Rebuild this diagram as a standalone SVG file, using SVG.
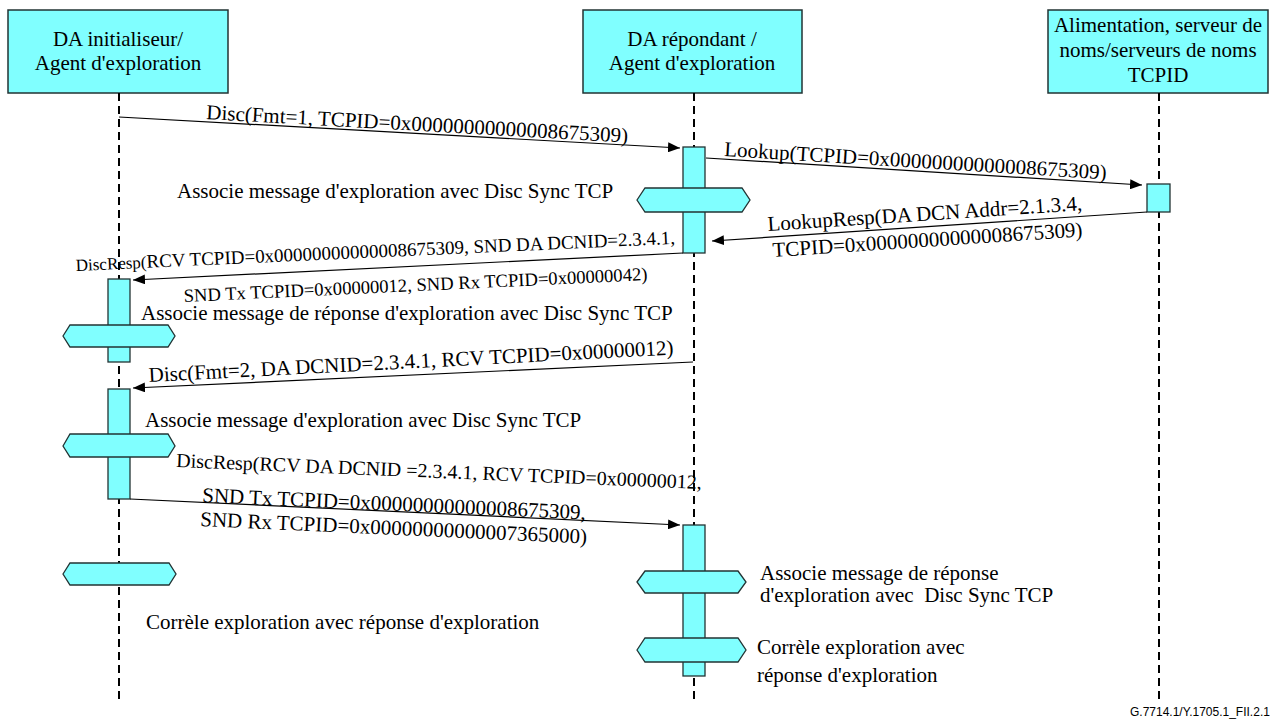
<svg xmlns="http://www.w3.org/2000/svg" width="1276" height="724" viewBox="0 0 1276 724">
<style>
.box{fill:#80FFFF;stroke:#223333;stroke-width:1.5}
.act{fill:#80FFFF;stroke:#223333;stroke-width:1.3}
.hex{fill:#80FFFF;stroke:#223333;stroke-width:1.3}
.life{stroke:#000;stroke-width:2;stroke-dasharray:8 5;fill:none}
.msg{stroke:#000;stroke-width:1.2;fill:none;marker-end:url(#ah)}
text{font-family:"Liberation Serif","Times New Roman",serif;font-size:21px;fill:#000;white-space:pre}
.ctr{text-anchor:middle}
.foot{font-family:"Liberation Sans",Arial,sans-serif;font-size:12px}
</style>
<defs>
<marker id="ah" markerWidth="12" markerHeight="10" refX="12" refY="5" orient="auto" markerUnits="userSpaceOnUse">
<path d="M0,0 L12,5 L0,10 z" fill="#000"/>
</marker>
</defs>
<rect width="1276" height="724" fill="#fff"/>

<g id="initiator">
<rect class="box" x="8" y="10" width="220" height="83"/>
<text class="ctr" x="118" y="46">DA initialiseur/</text>
<text class="ctr" x="118" y="70">Agent d'exploration</text>
<line class="life" x1="119" y1="93" x2="119" y2="700"/>
<rect class="act" x="108" y="279" width="22" height="83"/>
<polygon class="hex" points="63,336 70,325 168,325 175,336 168,347 70,347"/>
<rect class="act" x="108" y="389" width="22" height="110"/>
<polygon class="hex" points="63,446 70,434 168,434 175,446 168,457 70,457"/>
<polygon class="hex" points="63,574 70,563 169,563 176,574 169,585 70,585"/>
</g>

<g id="responder">
<rect class="box" x="583" y="10" width="219" height="83"/>
<text class="ctr" x="692" y="46">DA répondant /</text>
<text class="ctr" x="692" y="70">Agent d'exploration</text>
<line class="life" x1="694" y1="93" x2="694" y2="700"/>
<rect class="act" x="683" y="147" width="22" height="106"/>
<polygon class="hex" points="637,200 645,188 742,188 750,200 742,212 645,212"/>
<rect class="act" x="683" y="525" width="22" height="151"/>
<polygon class="hex" points="637,582 645,571 738,571 746,582 738,593 645,593"/>
<polygon class="hex" points="637,650 645,638 738,638 746,650 738,662 645,662"/>
</g>

<g id="nameserver">
<rect class="box" x="1048" y="10" width="220" height="83"/>
<text class="ctr" x="1158" y="32">Alimentation, serveur de</text>
<text class="ctr" x="1158" y="57">noms/serveurs de noms</text>
<text class="ctr" x="1158" y="82">TCPID</text>
<line class="life" x1="1159" y1="93" x2="1159" y2="700"/>
<rect class="act" x="1147" y="184" width="23" height="28"/>
</g>

<g id="connectors">
<line class="msg" x1="119" y1="117" x2="680" y2="148"/>
<text x="206" y="119" transform="rotate(3.2 206 119)">Disc(Fmt=1, TCPID=0x00000000000008675309)</text>

<line class="msg" x1="706" y1="158" x2="1142" y2="185"/>
<text x="724" y="156" transform="rotate(3.5 724 156)">Lookup(TCPID=0x00000000000008675309)</text>

<line class="msg" x1="1147" y1="212" x2="712" y2="241"/>
<text x="768" y="231" transform="rotate(-3.8 768 231)">LookupResp(DA DCN Addr=2.1.3.4,</text>
<text x="773" y="257" transform="rotate(-3.8 773 257)">TCPID=0x00000000000008675309)</text>

<line class="msg" x1="683" y1="253" x2="133" y2="280"/>
<text x="76" y="271" transform="rotate(-2.6 76 271)"><tspan style="font-size:17px">DiscResp(</tspan><tspan style="font-size:19px">RCV TCPID=0x00000000000008675309, SND DA DCNID=2.3.4.1,</tspan></text>
<text x="184" y="302" transform="rotate(-2.7 184 302)" style="font-size:18.6px">SND Tx TCPID=0x00000012, SND Rx TCPID=0x00000042)</text>

<line class="msg" x1="693" y1="362" x2="133" y2="388"/>
<text x="149" y="382" transform="rotate(-3 149 382)">Disc(Fmt=2, DA DCNID=2.3.4.1, RCV TCPID=0x00000012)</text>

<line class="msg" x1="130" y1="499" x2="680" y2="525"/>
<text x="176" y="467" transform="rotate(2.4 176 467)" style="font-size:20px">DiscResp(RCV DA DCNID =2.3.4.1, RCV TCPID=0x00000012,</text>
<text x="202" y="502" transform="rotate(2.6 202 502)">SND Tx TCPID=0x00000000000008675309,</text>
<text x="200" y="526" transform="rotate(2.6 200 526)">SND Rx TCPID=0x00000000000007365000)</text>
</g>

<g id="notes">
<text x="177" y="198">Associe message d'exploration avec Disc Sync TCP</text>
<text x="141" y="320">Associe message de réponse d'exploration avec Disc Sync TCP</text>
<text x="145" y="427">Associe message d'exploration avec Disc Sync TCP</text>
<text x="146" y="629">Corrèle exploration avec réponse d'exploration</text>
<text x="760" y="580">Associe message de réponse</text>
<text x="760" y="602">d'exploration avec  Disc Sync TCP</text>
<text x="757" y="654">Corrèle exploration avec</text>
<text x="757" y="682">réponse d'exploration</text>
</g>

<text class="foot" x="1130" y="716">G.7714.1/Y.1705.1_FII.2.1</text>
</svg>
